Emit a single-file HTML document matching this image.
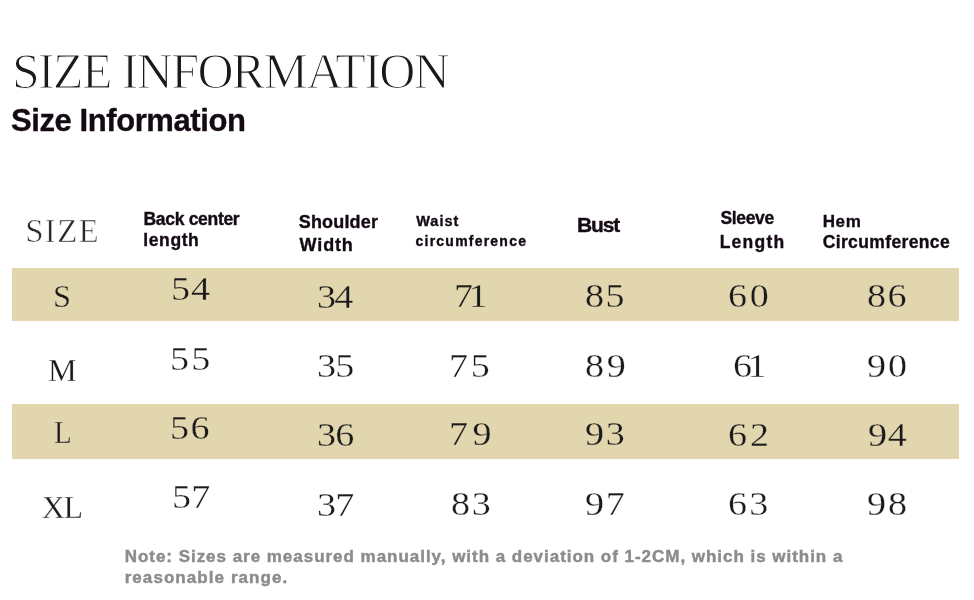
<!DOCTYPE html>
<html><head><meta charset="utf-8">
<style>
html,body{margin:0;padding:0;background:#fff;}
body{width:974px;height:600px;position:relative;overflow:hidden;}
.a{position:absolute;white-space:nowrap;line-height:1;}
.serif{font-family:"Liberation Serif",serif;color:#1a1a1a;}
.sans{font-family:"Liberation Sans",sans-serif;font-weight:bold;color:#140a14;}
.band{position:absolute;left:12px;width:947px;background:#e2d6af;}
.note{color:#8c8c8c;}
</style></head><body>
<div class="band" style="top:268px;height:53px"></div>
<div class="band" style="top:404px;height:55px"></div>
<div id="title" class="a serif" style="left:11.92px;top:45.80px;font-size:50.00px;letter-spacing:-1.64px;-webkit-text-stroke:1.2px #fff;">SIZE INFORMATION</div>
<div id="sub" class="a sans" style="left:11.02px;top:105.30px;font-size:31.00px;letter-spacing:-0.42px;-webkit-text-stroke:0.35px #140a14;">Size Information</div>
<div id="hsize" class="a serif" style="left:25.18px;top:215.42px;font-size:33.00px;letter-spacing:1.31px;color:#2a2a2a;-webkit-text-stroke:0.6px #fff;">SIZE</div>
<div id="h1a" class="a sans" style="left:143.46px;top:210.88px;font-size:17.50px;letter-spacing:-0.30px;-webkit-text-stroke:0.35px #140a14;">Back center</div>
<div id="h1b" class="a sans" style="left:143.34px;top:232.02px;font-size:17.50px;letter-spacing:0.59px;-webkit-text-stroke:0.35px #140a14;">length</div>
<div id="h2a" class="a sans" style="left:298.80px;top:212.71px;font-size:18.00px;letter-spacing:0.16px;-webkit-text-stroke:0.35px #140a14;">Shoulder</div>
<div id="h2b" class="a sans" style="left:299.60px;top:235.82px;font-size:18.00px;letter-spacing:0.86px;-webkit-text-stroke:0.35px #140a14;">Width</div>
<div id="h3a" class="a sans" style="left:416.16px;top:214.20px;font-size:14.50px;letter-spacing:1.04px;-webkit-text-stroke:0.35px #140a14;">Waist</div>
<div id="h3b" class="a sans" style="left:415.58px;top:233.80px;font-size:14.00px;letter-spacing:1.22px;-webkit-text-stroke:0.35px #140a14;">circumference</div>
<div id="h4" class="a sans" style="left:577.12px;top:213.52px;font-size:21.00px;letter-spacing:-1.15px;-webkit-text-stroke:0.35px #140a14;">Bust</div>
<div id="h5a" class="a sans" style="left:720.48px;top:209.66px;font-size:17.50px;letter-spacing:-0.35px;-webkit-text-stroke:0.35px #140a14;">Sleeve</div>
<div id="h5b" class="a sans" style="left:719.68px;top:233.88px;font-size:17.50px;letter-spacing:1.26px;-webkit-text-stroke:0.35px #140a14;">Length</div>
<div id="h6a" class="a sans" style="left:822.68px;top:213.12px;font-size:17.00px;letter-spacing:0.64px;-webkit-text-stroke:0.35px #140a14;">Hem</div>
<div id="h6b" class="a sans" style="left:822.68px;top:234.00px;font-size:17.50px;letter-spacing:0.37px;-webkit-text-stroke:0.35px #140a14;">Circumference</div>
<div id="sS" class="a serif" style="left:53.20px;top:279.50px;font-size:32.00px;letter-spacing:0.00px;transform:scaleX(1.012);transform-origin:0 0;-webkit-text-stroke:0.3px #e2d6af;">S</div>
<div id="r1c1" class="a serif" style="left:170.64px;top:272.00px;font-size:34.00px;letter-spacing:0.96px;transform:scaleX(1.120);transform-origin:0 0;-webkit-text-stroke:0.3px #e2d6af;">54</div>
<div id="r1c2" class="a serif" style="left:316.64px;top:280.44px;font-size:34.00px;letter-spacing:-1.60px;transform:scaleX(1.120);transform-origin:0 0;-webkit-text-stroke:0.3px #e2d6af;">34</div>
<div id="r1c3" class="a serif" style="left:454.06px;top:279.10px;font-size:34.00px;letter-spacing:-4.08px;transform:scaleX(1.120);transform-origin:0 0;-webkit-text-stroke:0.3px #e2d6af;">71</div>
<div id="r1c4" class="a serif" style="left:585.20px;top:279.10px;font-size:34.00px;letter-spacing:1.28px;transform:scaleX(1.120);transform-origin:0 0;-webkit-text-stroke:0.3px #e2d6af;">85</div>
<div id="r1c5" class="a serif" style="left:727.76px;top:279.10px;font-size:34.00px;letter-spacing:2.32px;transform:scaleX(1.120);transform-origin:0 0;-webkit-text-stroke:0.3px #e2d6af;">60</div>
<div id="r1c6" class="a serif" style="left:866.98px;top:279.10px;font-size:34.00px;letter-spacing:1.36px;transform:scaleX(1.120);transform-origin:0 0;-webkit-text-stroke:0.3px #e2d6af;">86</div>
<div id="sM" class="a serif" style="left:48.12px;top:353.60px;font-size:32.00px;letter-spacing:0.00px;transform:scaleX(1.011);transform-origin:0 0;-webkit-text-stroke:0.3px #fff;">M</div>
<div id="r2c1" class="a serif" style="left:170.20px;top:342.00px;font-size:34.00px;letter-spacing:2.00px;transform:scaleX(1.120);transform-origin:0 0;-webkit-text-stroke:0.3px #fff;">55</div>
<div id="r2c2" class="a serif" style="left:316.64px;top:349.22px;font-size:34.00px;letter-spacing:-0.80px;transform:scaleX(1.120);transform-origin:0 0;-webkit-text-stroke:0.3px #fff;">35</div>
<div id="r2c3" class="a serif" style="left:449.42px;top:349.22px;font-size:34.00px;letter-spacing:2.48px;transform:scaleX(1.120);transform-origin:0 0;-webkit-text-stroke:0.3px #fff;">75</div>
<div id="r2c4" class="a serif" style="left:585.00px;top:349.00px;font-size:34.00px;letter-spacing:2.40px;transform:scaleX(1.120);transform-origin:0 0;-webkit-text-stroke:0.3px #fff;">89</div>
<div id="r2c5" class="a serif" style="left:732.98px;top:349.22px;font-size:34.00px;letter-spacing:-4.16px;transform:scaleX(1.120);transform-origin:0 0;-webkit-text-stroke:0.3px #fff;">61</div>
<div id="r2c6" class="a serif" style="left:866.88px;top:349.22px;font-size:34.00px;letter-spacing:1.76px;transform:scaleX(1.120);transform-origin:0 0;-webkit-text-stroke:0.3px #fff;">90</div>
<div id="sL" class="a serif" style="left:54.00px;top:415.84px;font-size:32.00px;letter-spacing:0.00px;transform:scaleX(0.908);transform-origin:0 0;-webkit-text-stroke:0.3px #e2d6af;">L</div>
<div id="r3c1" class="a serif" style="left:170.20px;top:410.88px;font-size:34.00px;letter-spacing:1.20px;transform:scaleX(1.120);transform-origin:0 0;-webkit-text-stroke:0.3px #e2d6af;">56</div>
<div id="r3c2" class="a serif" style="left:316.64px;top:417.88px;font-size:34.00px;letter-spacing:-0.80px;transform:scaleX(1.120);transform-origin:0 0;-webkit-text-stroke:0.3px #e2d6af;">36</div>
<div id="r3c3" class="a serif" style="left:448.62px;top:417.10px;font-size:34.00px;letter-spacing:4.08px;transform:scaleX(1.120);transform-origin:0 0;-webkit-text-stroke:0.3px #e2d6af;">79</div>
<div id="r3c4" class="a serif" style="left:585.00px;top:417.10px;font-size:34.00px;letter-spacing:1.60px;transform:scaleX(1.120);transform-origin:0 0;-webkit-text-stroke:0.3px #e2d6af;">93</div>
<div id="r3c5" class="a serif" style="left:727.86px;top:417.78px;font-size:34.00px;letter-spacing:2.72px;transform:scaleX(1.120);transform-origin:0 0;-webkit-text-stroke:0.3px #e2d6af;">62</div>
<div id="r3c6" class="a serif" style="left:867.78px;top:417.78px;font-size:34.00px;letter-spacing:0.56px;transform:scaleX(1.120);transform-origin:0 0;-webkit-text-stroke:0.3px #e2d6af;">94</div>
<div id="sXL" class="a serif" style="left:41.66px;top:491.38px;font-size:32.00px;letter-spacing:-1.36px;-webkit-text-stroke:0.3px #fff;">XL</div>
<div id="r4c1" class="a serif" style="left:171.76px;top:480.44px;font-size:34.00px;letter-spacing:0.24px;transform:scaleX(1.120);transform-origin:0 0;-webkit-text-stroke:0.3px #fff;">57</div>
<div id="r4c2" class="a serif" style="left:316.64px;top:488.00px;font-size:34.00px;letter-spacing:-0.80px;transform:scaleX(1.120);transform-origin:0 0;-webkit-text-stroke:0.3px #fff;">37</div>
<div id="r4c3" class="a serif" style="left:451.00px;top:486.66px;font-size:34.00px;letter-spacing:1.60px;transform:scaleX(1.120);transform-origin:0 0;-webkit-text-stroke:0.3px #fff;">83</div>
<div id="r4c4" class="a serif" style="left:585.00px;top:487.00px;font-size:34.00px;letter-spacing:1.60px;transform:scaleX(1.120);transform-origin:0 0;-webkit-text-stroke:0.3px #fff;">97</div>
<div id="r4c5" class="a serif" style="left:727.76px;top:486.88px;font-size:34.00px;letter-spacing:1.92px;transform:scaleX(1.120);transform-origin:0 0;-webkit-text-stroke:0.3px #fff;">63</div>
<div id="r4c6" class="a serif" style="left:866.88px;top:486.88px;font-size:34.00px;letter-spacing:1.76px;transform:scaleX(1.120);transform-origin:0 0;-webkit-text-stroke:0.3px #fff;">98</div>
<div id="note1" class="a sans note" style="left:124.66px;top:548.08px;font-size:17.00px;letter-spacing:0.97px;-webkit-text-stroke:0.45px #8c8c8c;">Note: Sizes are measured manually, with a deviation of 1-2CM, which is within a</div>
<div id="note2" class="a sans note" style="left:124.66px;top:569.40px;font-size:17.00px;letter-spacing:1.07px;-webkit-text-stroke:0.45px #8c8c8c;">reasonable range.</div>
</body></html>
